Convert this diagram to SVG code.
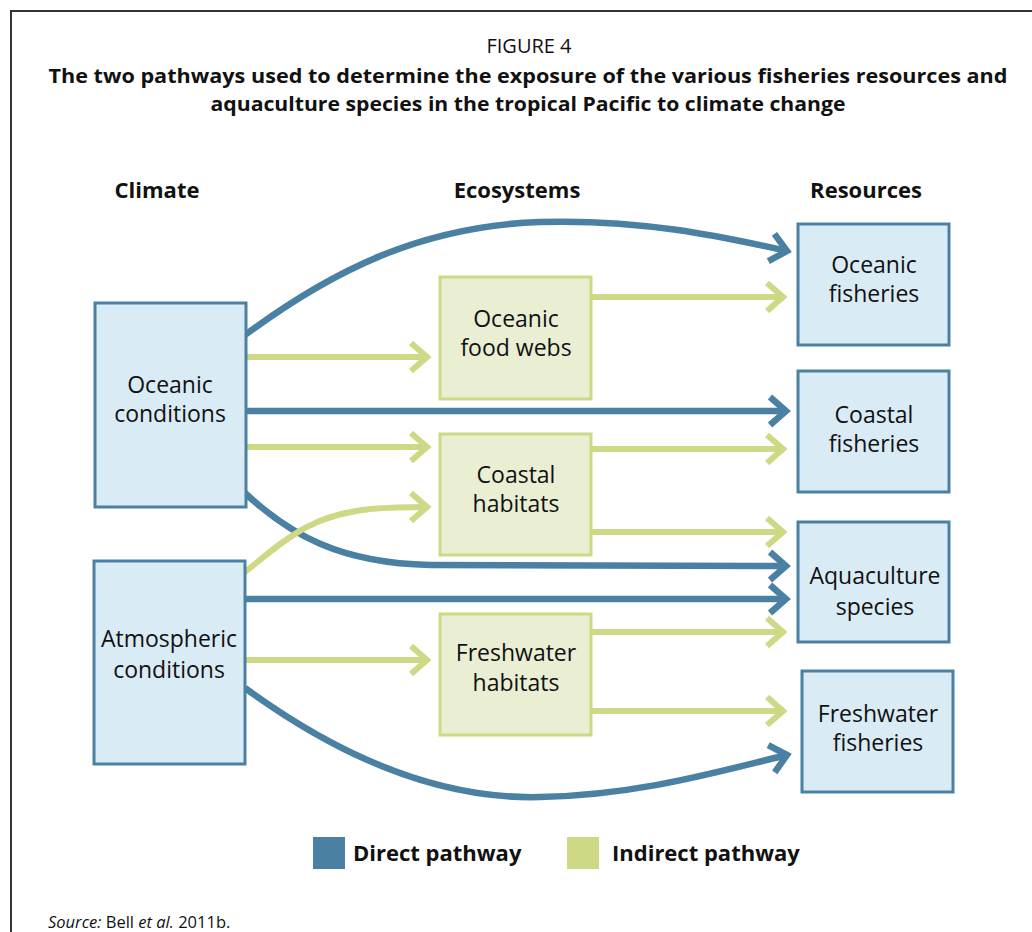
<svg xmlns="http://www.w3.org/2000/svg" width="1032" height="932" viewBox="0 0 1032 932">
<style>
text{font-family:"Open Sans","Noto Sans","Liberation Sans",sans-serif;fill:#111}
.t{font-size:23px;text-anchor:middle}
.h{font-size:22px;font-weight:bold;text-anchor:middle}
.res{fill:#d9ebf5;stroke:#4a81a3;stroke-width:3}
.eco{fill:#eaeed3;stroke:#cfd884;stroke-width:3}
.d{fill:none;stroke:#4a81a3;stroke-width:6.5}
.i{fill:none;stroke:#cfd884;stroke-width:6}
</style>
<defs>
<marker id="ab" markerUnits="userSpaceOnUse" markerWidth="40" markerHeight="40" refX="0" refY="0" viewBox="-20 -20 40 40" orient="auto" overflow="visible">
<path d="M-16,-14 L0,0 L-16,14" fill="none" stroke="#4a81a3" stroke-width="6.5"/>
</marker>
<marker id="ai" markerUnits="userSpaceOnUse" markerWidth="40" markerHeight="40" refX="0" refY="0" viewBox="-20 -20 40 40" orient="auto" overflow="visible">
<path d="M-16,-14 L0,0 L-16,14" fill="none" stroke="#cfd884" stroke-width="6"/>
</marker>
</defs>
<rect x="0" y="0" width="1032" height="932" fill="#fff"/>
<path d="M11,932 L11,11 L1032,11" fill="none" stroke="#333" stroke-width="2"/>
<g id="title">
<text x="529" y="53" style="font-size:20px;text-anchor:middle">FIGURE 4</text>
<text x="528" y="83" style="font-size:20px;font-weight:bold;text-anchor:middle" textLength="959" lengthAdjust="spacingAndGlyphs">The two pathways used to determine the exposure of the various fisheries resources and</text>
<text x="528" y="111" style="font-size:20px;font-weight:bold;text-anchor:middle" textLength="635" lengthAdjust="spacingAndGlyphs">aquaculture species in the tropical Pacific to climate change</text>
</g>
<g id="headers">
<text class="h" x="157" y="198">Climate</text>
<text class="h" x="517" y="198">Ecosystems</text>
<text class="h" x="866" y="198">Resources</text>
</g>
<g id="connectors">
<path class="d" d="M245,335 C330,272 420,226 540,222 C640,219 720,236 787,251" marker-end="url(#ab)"/>
<path class="i" d="M591,297 L783,297" marker-end="url(#ai)"/>
<path class="i" d="M245,357 L427,357" marker-end="url(#ai)"/>
<path class="d" d="M245,411 L786,411" marker-end="url(#ab)"/>
<path class="i" d="M245,447 L427,447" marker-end="url(#ai)"/>
<path class="i" d="M591,449 L783,449" marker-end="url(#ai)"/>
<path class="i" d="M591,532 L783,532" marker-end="url(#ai)"/>
<path class="d" d="M245,493 C290,535 340,563 430,565 L786,566" marker-end="url(#ab)"/>
<path class="i" d="M245,572 C285,540 310,515 370,509 C395,507 410,507 427,507" marker-end="url(#ai)"/>
<path class="d" d="M245,599 L786,599" marker-end="url(#ab)"/>
<path class="i" d="M591,632 L783,632" marker-end="url(#ai)"/>
<path class="i" d="M245,660 L427,660" marker-end="url(#ai)"/>
<path class="i" d="M591,711 L783,711" marker-end="url(#ai)"/>
<path class="d" d="M245,688 C330,750 430,800 540,797 C640,795 720,771 787,755" marker-end="url(#ab)"/>
</g>
<g id="oceanic-conditions">
<rect class="res" x="95" y="303" width="151" height="204"/>
<text class="t" x="170" y="393">Oceanic</text>
<text class="t" x="170" y="422">conditions</text>
</g>
<g id="atmospheric-conditions">
<rect class="res" x="94" y="561" width="151" height="203"/>
<text class="t" x="169" y="647">Atmospheric</text>
<text class="t" x="169" y="678">conditions</text>
</g>
<g id="oceanic-food-webs">
<rect class="eco" x="440" y="277" width="151" height="122"/>
<text class="t" x="516" y="327">Oceanic</text>
<text class="t" x="516" y="356">food webs</text>
</g>
<g id="coastal-habitats">
<rect class="eco" x="440" y="434" width="151" height="121"/>
<text class="t" x="516" y="483">Coastal</text>
<text class="t" x="516" y="512">habitats</text>
</g>
<g id="freshwater-habitats">
<rect class="eco" x="440" y="614" width="151" height="121"/>
<text class="t" x="516" y="661">Freshwater</text>
<text class="t" x="516" y="691">habitats</text>
</g>
<g id="oceanic-fisheries">
<rect class="res" x="798" y="224" width="151" height="121"/>
<text class="t" x="874" y="273">Oceanic</text>
<text class="t" x="874" y="302">fisheries</text>
</g>
<g id="coastal-fisheries">
<rect class="res" x="798" y="371" width="151" height="121"/>
<text class="t" x="874" y="423">Coastal</text>
<text class="t" x="874" y="452">fisheries</text>
</g>
<g id="aquaculture-species">
<rect class="res" x="798" y="522" width="151" height="120"/>
<text class="t" x="875" y="584">Aquaculture</text>
<text class="t" x="875" y="615">species</text>
</g>
<g id="freshwater-fisheries">
<rect class="res" x="802" y="671" width="151" height="121"/>
<text class="t" x="878" y="722">Freshwater</text>
<text class="t" x="878" y="751">fisheries</text>
</g>
<g id="legend">
<rect x="313" y="837" width="32" height="32" fill="#4a81a3"/>
<text x="353" y="861" style="font-size:22px;font-weight:bold">Direct pathway</text>
<rect x="567" y="837" width="32" height="32" fill="#cfd884"/>
<text x="612" y="861" style="font-size:22px;font-weight:bold">Indirect pathway</text>
</g>
<text x="48" y="928" style="font-size:16.5px"><tspan font-style="italic">Source:</tspan> Bell <tspan font-style="italic">et al.</tspan> 2011b.</text>
</svg>
